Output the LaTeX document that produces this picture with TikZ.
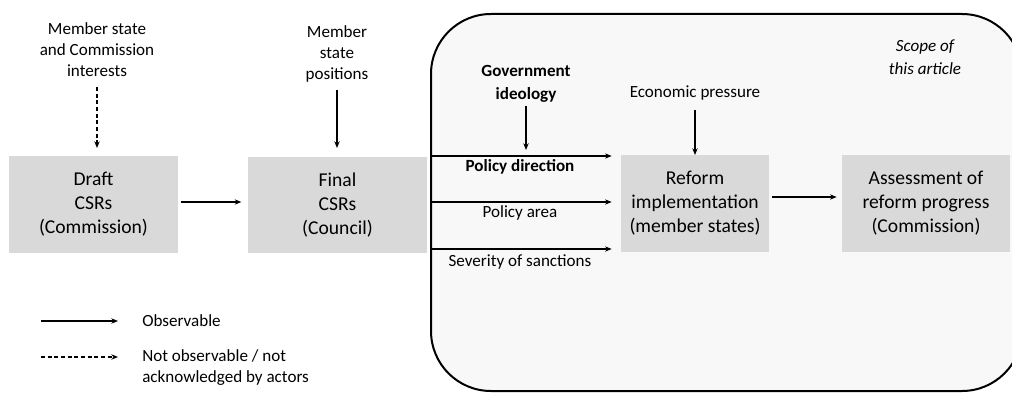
\documentclass[tikz,border=0pt]{standalone}
\usepackage{fontspec}
\setmainfont{Carlito}
\usetikzlibrary{arrows.meta}
\definecolor{boxgray}{HTML}{D9D9D9}
\definecolor{scopefill}{HTML}{F8F8F8}
\tikzset{
  lbl/.style={align=center, inner sep=0pt, font=\fontsize{12.8}{15.75}\selectfont},
  stagebox/.style={inner sep=0pt, align=center, font=\fontsize{14.7}{18}\selectfont},
  arr/.style={line width=1pt, -{Stealth[length=5pt,width=4pt]}},
  darr/.style={arr, dash pattern=on 3pt off 2pt},
}
\begin{document}
\begin{tikzpicture}[x=0.75pt,y=-0.75pt]
\useasboundingbox (0,0) rectangle (1012,392);
% scope region
\draw[line width=1.5pt, fill=scopefill, rounded corners=45pt] (431,14) rectangle (1022,391);
\node[lbl, font=\fontsize{12.8}{17}\selectfont\itshape] (scope) at (925,57) {Scope of\\this article};
% boxes
\path[fill=boxgray] (9,156) rectangle (178,253);
\node[stagebox] (draft) at (93.5,204.5) {Draft\\CSRs\\(Commission)};
\path[fill=boxgray] (248,157) rectangle (427,253);
\node[stagebox] (final) at (337.5,205) {Final\\CSRs\\(Council)};
\path[fill=boxgray] (621,155) rectangle (769,252);
\node[stagebox] (reform) at (695,203.5) {Reform\\implementation\\(member states)};
\path[fill=boxgray] (842,155) rectangle (1010,252);
\node[stagebox] (assess) at (926,203.5) {Assessment of\\reform progress\\(Commission)};
% named anchor coordinates
\coordinate (draftR) at (178,202);
\coordinate (finalL) at (248,202);
\coordinate (reformL) at (621,0);
\coordinate (reformR) at (769,197);
\coordinate (assessL) at (842,197);
\coordinate (draftT) at (97,148);
\coordinate (finalT) at (337,148);
\coordinate (reformT) at (695,155);
% top labels
\node[lbl] (msci) at (97,50) {Member state\\and Commission\\interests};
\node[lbl] (msp) at (337,54) {Member\\state\\positions};
\node[lbl, font=\fontsize{12.8}{17}\selectfont\bfseries] (gov) at (526,84) {Government\\ideology};
\node[lbl] (econ) at (695,93) {Economic pressure};
% policy lines
\coordinate (p1) at (431,156);
\coordinate (p2) at (431,202);
\coordinate (p3) at (431,249);
\coordinate (govS) at (526,106);
\coordinate (govE) at (526,150);
\coordinate (mcS) at (97,87);
\coordinate (mpS) at (337,90);
\coordinate (ecS) at (695,110);
\node[lbl, font=\fontsize{12.8}{15.75}\selectfont\bfseries] (pdir) at (520,167) {Policy direction};
\node[lbl] (parea) at (520,213) {Policy area};
\node[lbl] (psev) at (520,262) {Severity of sanctions};
% connectors
\draw[darr] (mcS) -- (draftT);
\draw[arr] (mpS) -- (finalT);
\draw[arr] (govS) -- (govE);
\draw[arr] (ecS) -- (reformT);
\draw[arr, shorten <=2pt, shorten >=5pt] (draftR) -- (finalL);
\draw[arr, shorten <=2pt, shorten >=4pt] (reformR) -- (assessL);
\draw[arr, shorten >=7pt] (p1) -- (reformL |- p1);
\draw[arr, shorten >=7pt] (p2) -- (reformL |- p2);
\draw[arr, shorten >=7pt] (p3) -- (reformL |- p3);
% legend
\coordinate (l1a) at (41,321);
\coordinate (l2a) at (41,357);
\node[lbl, anchor=west] (obs) at (142,321) {Observable};
\node[lbl, anchor=north west, align=left] (nobs) at (142,349) {Not observable / not\\acknowledged by actors};
\draw[arr] (l1a) -- ([xshift=-18]obs.west);
\draw[darr] (l2a) -- ([xshift=-18]obs.west |- l2a);
\end{tikzpicture}
\end{document}
